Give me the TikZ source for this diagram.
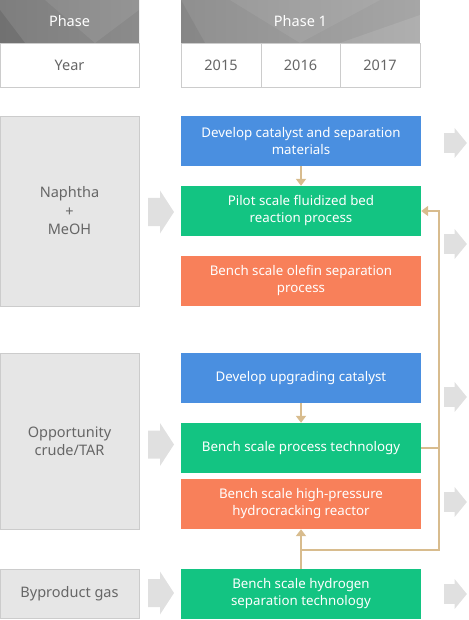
\documentclass[tikz,border=0pt]{standalone}
\usepackage{fontspec}
\setmainfont{Noto Sans}
\usetikzlibrary{arrows.meta}

\definecolor{headdark}{HTML}{7E7E7E}
\definecolor{headlight}{HTML}{A6A6A6}
\definecolor{cellline}{HTML}{CCCCCC}
\definecolor{celltext}{HTML}{666666}
\definecolor{feedfill}{HTML}{E6E6E6}
\definecolor{arrowgray}{HTML}{E0E0E0}
\definecolor{stepblue}{HTML}{4A8FE0}
\definecolor{stepgreen}{HTML}{13C482}
\definecolor{steporange}{HTML}{F8805A}
\definecolor{linktan}{HTML}{D8BC8E}

\tikzset{
  headcell/.style={minimum height=43pt, inner sep=0pt, text=white,
    font=\fontsize{14.5}{17}\selectfont},
  yearcell/.style={draw=cellline, fill=white, minimum height=44pt, inner sep=0pt,
    text=celltext, font=\fontsize{14.5}{17}\selectfont},
  feedbox/.style={draw=cellline, fill=feedfill, minimum width=139pt, inner sep=0pt,
    align=center, text=celltext, font=\fontsize{14.5}{18.5}\selectfont},
  stepbox/.style={minimum width=240pt, minimum height=50pt, inner sep=0pt,
    align=center, text=white, font=\fontsize{13.3}{17}\selectfont},
  link/.style={draw=linktan, line width=2pt, -{Triangle[width=10pt,length=7pt]}},
  linkplain/.style={draw=linktan, line width=2pt},
  blockarrow/.pic={
    \fill[arrowgray] (0,-14) -- (12,-14) -- (12,-21.5) -- (26,0) -- (12,21.5)
      -- (12,14) -- (0,14) -- cycle;
  }
}

\begin{document}
\begin{tikzpicture}[x=1pt, y=-1pt]
    \useasboundingbox (0,0) rectangle (468,620);
    % header background
    \begin{scope}
      \clip (0,0) rectangle (139,43) (181,0) rectangle (420,43);
      \shade[left color=headdark, right color=headlight] (0,0) rectangle (420,43);
      \fill[black, opacity=.10] (0,10) -- (25,43) -- (0,43) -- cycle;
      \fill[white, opacity=.08] (45,0) -- (95,43) -- (139,10) -- (139,0) -- cycle;
      \fill[black, opacity=.06] (181,0) -- (205,43) -- (181,43) -- cycle;
      \fill[white, opacity=.07] (230,0) -- (300,43) -- (380,0) -- cycle;
      \fill[white, opacity=.10] (340,43) -- (420,15) -- (420,43) -- cycle;
    \end{scope}
    \node[headcell, minimum width=139pt] (phasehd) at (69.5,21.5) {Phase};
    \node[headcell, minimum width=239pt] (phaseone) at (300.5,21.5) {Phase 1};
    % years
    \node[yearcell, minimum width=139pt] (year) at (69.5,65) {Year};
    \node[yearcell, minimum width=80pt] (y2015) at (221,65) {2015};
    \node[yearcell, minimum width=79pt] (y2016) at (300.5,65) {2016};
    \node[yearcell, minimum width=80pt] (y2017) at (380,65) {2017};
    % feeds
    \node[feedbox, minimum height=190pt] (naphtha) at (69.5,211) {Naphtha\\+\\MeOH};
    \node[feedbox, minimum height=176pt] (crude) at (69.5,441) {Opportunity\\crude/TAR};
    \node[feedbox, minimum height=49pt] (gas) at (69.5,593.5) {Byproduct gas};
    % steps
    \node[stepbox, fill=stepblue] (catmat) at (301,141) {Develop catalyst and separation\\materials};
    \node[stepbox, fill=stepgreen] (pilot) at (301,211) {Pilot scale fluidized bed\\reaction process};
    \node[stepbox, fill=steporange] (olefin) at (301,281) {Bench scale olefin separation\\process};
    \node[stepbox, fill=stepblue] (upgrade) at (301,378) {Develop upgrading catalyst};
    \node[stepbox, fill=stepgreen] (benchproc) at (301,448) {Bench scale process technology};
    \node[stepbox, fill=steporange] (hydro) at (301,504) {Bench scale high-pressure\\hydrocracking reactor};
    \node[stepbox, fill=stepgreen] (h2sep) at (301,594) {Bench scale hydrogen\\separation technology};
    % gray arrows
    \pic at (148,212) {blockarrow};
    \pic at (148,444.5) {blockarrow};
    \pic at (148,593) {blockarrow};
    \foreach \yy in {143,244,397,502,594}
      \pic[xscale=0.88, yscale=0.7] at (444,\yy) {blockarrow};
    % links
    \coordinate (joint) at (439,550);
    \draw[link] (catmat) -- (pilot);
    \draw[link] (upgrade) -- (benchproc);
    \draw[link] (benchproc.east) -| (joint |- pilot.east) -- (pilot.east);
    \draw[linkplain] (benchproc.east) -| (joint) -- (joint -| h2sep.north);
    \draw[link] (h2sep) -- (hydro);
\end{tikzpicture}
\end{document}
